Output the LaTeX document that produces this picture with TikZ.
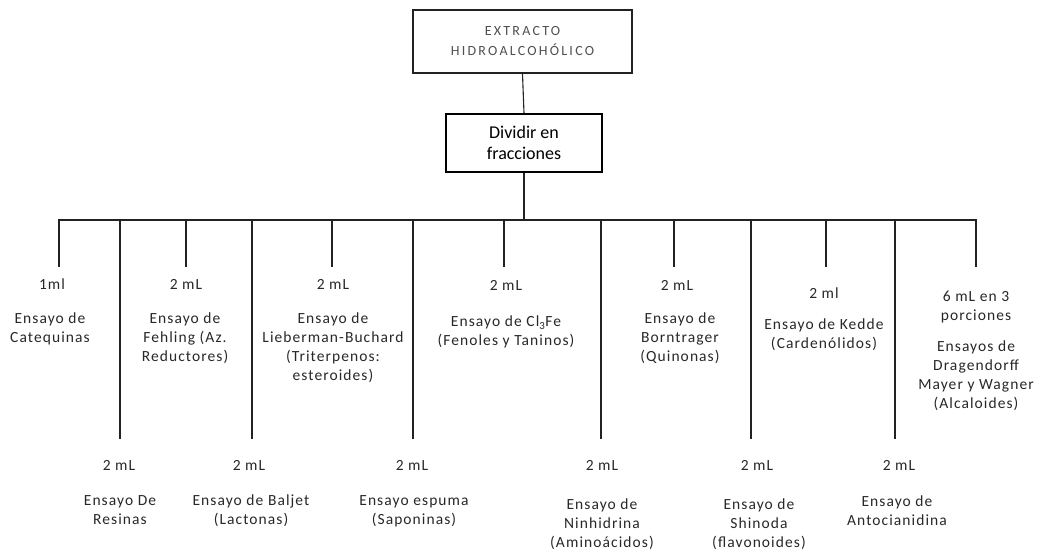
\documentclass[tikz,border=0pt]{standalone}
\usepackage{fontspec}
\setmainfont{Carlito}[LetterSpace=7]
\newfontfamily\titlefont{Carlito}[LetterSpace=16]
\newfontfamily\boxfont{Carlito}
\newcommand\lblsize{\fontsize{15.5}{19}\selectfont}
\definecolor{lnc}{HTML}{222222}
\definecolor{txt}{HTML}{282828}
\definecolor{ttl}{HTML}{505050}
\tikzset{
  ln/.style={draw=lnc, line width=1.1pt},
  lab/.style={font=\lblsize, align=center, inner sep=0pt, anchor=north, text=txt},
  vol/.style={font=\lblsize, align=center, inner sep=0pt, anchor=north, text=txt},
  titlebox/.style={draw=lnc, line width=1.5pt, minimum width=219pt, minimum height=63pt, inner sep=0pt, align=center, text=ttl, font=\titlefont\fontsize{14}{20}\selectfont},
  divbox/.style={draw=black, line width=2pt, minimum width=156pt, minimum height=58pt, inner sep=0pt, align=center, text=black, font=\boxfont\fontsize{18}{21}\selectfont},
}
\begin{document}
\begin{tikzpicture}[x=1pt,y=-1pt]
\useasboundingbox[fill=white] (0,0) rectangle (1044,559);

\node[titlebox] (t) at (522.5,41.5) {EXTRACTO\\HIDROALCOHÓLICO};
\node[divbox] (d) at (524,143) {Dividir en\\fracciones};
\coordinate (barL) at (58,220);
\coordinate (barR) at (977,220);
\draw[ln] (t.south) -- (d.north);
\draw[ln] (d.south) -- (d.south |- barL);
\draw[ln] (barL) -- (barR);

% short branches (top row)
\foreach \n/\x in {s1/59,s2/186,s3/332,s4/504,s5/674,s6/826,s7/976}{
  \coordinate (\n a) at (\x,220);
  \coordinate (\n b) at (\x,267);
  \draw[ln] (\n a) -- (\n b);
}
% long branches (bottom row)
\foreach \n/\x in {l1/120,l2/252,l3/413,l4/601,l5/751,l6/895}{
  \coordinate (\n a) at (\x,220);
  \coordinate (\n b) at (\x,439);
  \draw[ln] (\n a) -- (\n b);
}

% top row labels
\node[vol] (v1) at (52,279) {1ml};
\node[lab] (e1) at (50,313) {Ensayo de\\Catequinas};
\node[vol] (v2) at (186,279) {2 mL};
\node[lab] (e2) at (185,313) {Ensayo de\\Fehling (Az.\\Reductores)};
\node[vol] (v3) at (333,279) {2 mL};
\node[lab] (e3) at (333,313) {Ensayo de\\Lieberman-Buchard\\(Triterpenos:\\esteroides)};
\node[vol] (v4) at (506,280) {2 mL};
\node[lab] (e4) at (506,316) {Ensayo de Cl\textsubscript{3}Fe\\(Fenoles y Taninos)};
\node[vol] (v5) at (677,280) {2 mL};
\node[lab] (e5) at (680,313) {Ensayo de\\Borntrager\\(Quinonas)};
\node[vol] (v6) at (824,288) {2 ml};
\node[lab] (e6) at (824,319) {Ensayo de Kedde\\(Cardenólidos)};
\node[vol] (v7) at (976,291) {6 mL en 3\\porciones};
\node[lab] (e7) at (976,341) {Ensayos de\\Dragendorff\\Mayer y Wagner\\(Alcaloides)};

% bottom row labels
\node[vol] (w1) at (119,460) {2 mL};
\node[lab] (f1) at (120,495) {Ensayo De\\Resinas};
\node[vol] (w2) at (249,460) {2 mL};
\node[lab] (f2) at (251,495) {Ensayo de Baljet\\(Lactonas)};
\node[vol] (w3) at (412,460) {2 mL};
\node[lab] (f3) at (414,495) {Ensayo espuma\\(Saponinas)};
\node[vol] (w4) at (602,460) {2 mL};
\node[lab] (f4) at (602,499) {Ensayo de\\Ninhidrina\\(Aminoácidos)};
\node[vol] (w5) at (757,460) {2 mL};
\node[lab] (f5) at (759,499) {Ensayo de\\Shinoda\\(flavonoides)};
\node[vol] (w6) at (899,460) {2 mL};
\node[lab] (f6) at (897,496) {Ensayo de\\Antocianidina};
\end{tikzpicture}
\end{document}
